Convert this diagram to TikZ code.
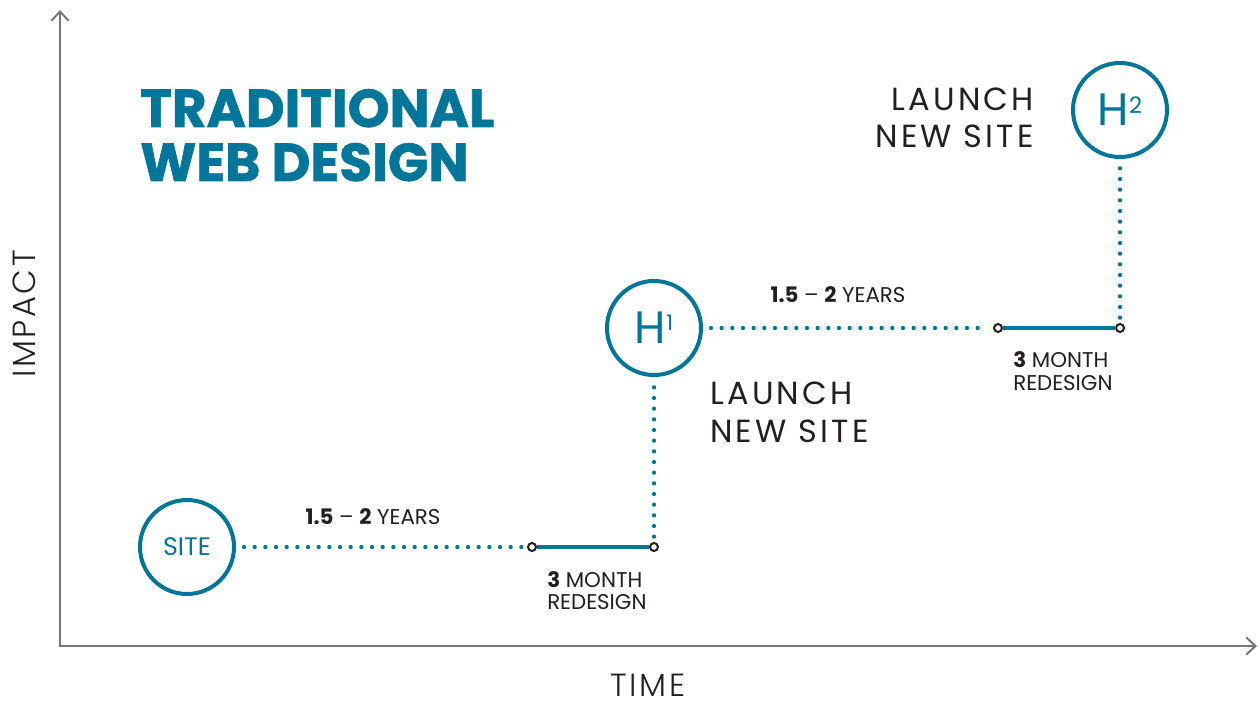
\documentclass[tikz,border=0pt]{standalone}
\usepackage{fontspec}
\setmainfont{Poppins}
\newfontfamily\thinfont{Poppins Light}
\usetikzlibrary{arrows.meta}
\definecolor{webblue}{HTML}{00769A}
\definecolor{inkgray}{HTML}{231F20}
\definecolor{axisgray}{HTML}{77787B}

\begin{document}
\begin{tikzpicture}[x=0.75pt,y=-0.75pt,
  ring/.style={draw=webblue,line width=3pt,circle,inner sep=0pt,minimum size=70.5pt,text=webblue},
  knot/.style={draw=inkgray,fill=white,line width=1.5pt,circle,inner sep=0pt,minimum size=6pt},
  dots/.style={webblue,line width=3.2pt,line cap=round,dash pattern=on 0pt off 8pt},
  bar/.style={webblue,line width=3pt},
  axis/.style={axisgray,line width=1.5pt,{Straight Barb[length=7pt,width=13pt]}-{Straight Barb[length=7pt,width=13pt]}},
  title/.style={font=\bfseries\addfontfeature{FakeBold=1.2}\fontsize{40}{40}\selectfont,text=webblue,inner sep=0pt},
  spaced/.style={font=\addfontfeature{LetterSpace=10}\fontsize{24}{24}\selectfont,text=inkgray,inner sep=0pt},
  axislabel/.style={font=\thinfont\addfontfeature{LetterSpace=8}\fontsize{24}{24}\selectfont,text=inkgray,inner sep=0pt},
  small/.style={font=\fontsize{16}{16}\selectfont,text=inkgray,inner sep=0pt}]
\fill[white] (0,0) rectangle (1260,702);
\useasboundingbox (0,0) rectangle (1260,702);

% axes
\coordinate (origin) at (60,646);
\coordinate (ytip) at (60,10);
\coordinate (xtip) at (1257,646);
\draw[axis] (ytip) -- (origin) -- (xtip);
\node[axislabel,rotate=90] (impact) at (24,314) {IMPACT};
\node[axislabel] (time) at (648,685) {TIME};

% title
\node[title,anchor=base west] (trad) at (140,127) {TRADITIONAL};
\node[title,anchor=base west] (web) at (140,181) {WEB DESIGN};

% milestones
\node[ring] (site) at (187,547) {\fontsize{19}{19}\selectfont SITE};
\node[ring] (hone) at (654,328) {\fontsize{34}{34}\selectfont H\raisebox{10pt}{\fontsize{16}{16}\selectfont 1}};
\node[ring] (htwo) at (1120,110) {\fontsize{34}{34}\selectfont H\raisebox{9pt}{\fontsize{17}{17}\selectfont 2}};
\node[knot] (a1) at (532,547) {};
\node[knot] (a2) at (654,547) {};
\node[knot] (b1) at (998,328) {};
\node[knot] (b2) at (1120,328) {};

\draw[dots,shorten <=6pt,shorten >=4pt] (site) -- (a1);
\draw[bar] (a1) -- (a2);
\draw[dots,shorten <=4pt,shorten >=6pt] (a2) -- (hone);
\draw[dots,shorten <=6pt,shorten >=4pt] (hone) -- (b1);
\draw[bar] (b1) -- (b2);
\draw[dots,shorten <=4pt,shorten >=6pt] (b2) -- (htwo);

% labels
\node[spaced,anchor=base west] (launcha) at (710,404) {LAUNCH};
\node[spaced,anchor=base west] (newa) at (710,442) {NEW SITE};
\node[spaced,anchor=base east] (launchb) at (1034,111) {LAUNCH};
\node[spaced,anchor=base east] (newb) at (1034,148) {NEW SITE};
\node[small,anchor=base] (yearsa) at (373,524) {\textbf{1.5} -- \textbf{2} YEARS};
\node[small,anchor=base] (yearsb) at (838,303) {\textbf{1.5} -- \textbf{2} YEARS};
\node[small,anchor=base west] (montha) at (547,587) {\textbf{3} MONTH};
\node[small,anchor=base west] (redesa) at (547,609) {REDESIGN};
\node[small,anchor=base west] (monthb) at (1013,368) {\textbf{3} MONTH};
\node[small,anchor=base west] (redesb) at (1013,390) {REDESIGN};
\end{tikzpicture}
\end{document}
